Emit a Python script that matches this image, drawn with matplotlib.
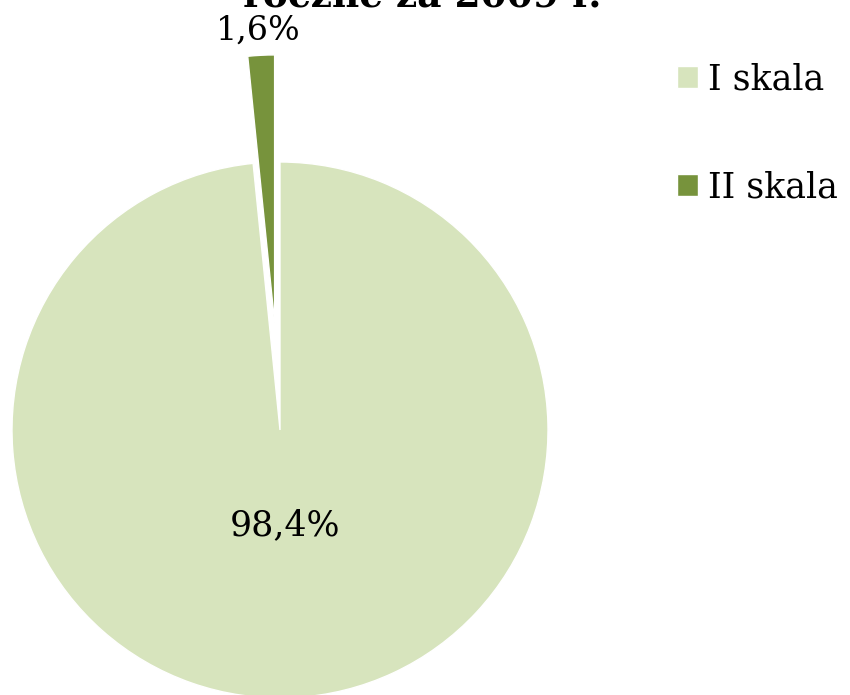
import matplotlib
matplotlib.use("Agg")
import matplotlib.pyplot as plt

# udzial skal w ocenie rocznej
labels = ["I skala", "II skala"]
shares = [98.4, 1.6]
label_texts = ["98,4%", "1,6%"]
colors = ["#D7E4BD", "#77933C"]
explode = [0.0, 0.40]

plt.rcParams["font.family"] = ["DejaVu Serif"]

fig = plt.figure(figsize=(8.5, 6.95), dpi=100)
ax = fig.add_axes([0, 0, 1, 1])

# 1 data unit = radius of the pie (~268 px), centre at (280, 430) px
R = 268.0

wedges, _ = ax.pie(shares, colors=colors, explode=explode, startangle=90,
                   counterclock=False, radius=1.0,
                   wedgeprops=dict(edgecolor="white", linewidth=1.0))
ax.set_aspect("auto")
ax.set_xlim(-280 / R, (850 - 280) / R)
ax.set_ylim(-(695 - 430) / R, 430 / R)
ax.axis("off")

ax.text(0.02, -0.355, label_texts[0], ha="center", va="center", fontsize=25)
ax.text(-0.08, 1.49, label_texts[1], ha="center", va="center", fontsize=24)

fig.text(422 / 850, 1 - 7 / 695, "roczne za 2009 r.", ha="center",
         va="baseline", fontsize=27, fontweight="bold")

ax.legend(wedges, labels, loc="upper left", bbox_to_anchor=(677 / 850, 1 - 62 / 695),
          bbox_transform=fig.transFigure, frameon=False, fontsize=25,
          handlelength=0.6, handleheight=0.6, handletextpad=0.28,
          labelspacing=2.15, borderpad=0, borderaxespad=0)

fig.savefig("out.png", dpi=100)
